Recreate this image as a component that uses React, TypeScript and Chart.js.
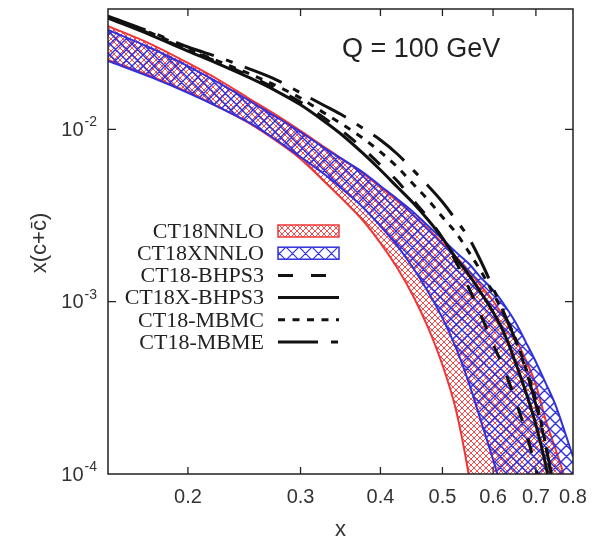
import React, { useEffect, useRef } from "react";
import { Chart, registerables } from "chart.js";

Chart.register(...registerables);

// ---------- data ----------
const xGrid = [0.15, 0.175, 0.2, 0.225, 0.25, 0.275, 0.3, 0.325, 0.35, 0.375, 0.4, 0.425, 0.45, 0.475, 0.5, 0.525, 0.55, 0.575, 0.6, 0.625, 0.65, 0.675, 0.7, 0.725, 0.75, 0.775, 0.8];

const nnloUpper = [0.0398, 0.0313, 0.0243, 0.0191, 0.015, 0.0121, 0.0098, 0.00801, 0.00665, 0.00558, 0.00463, 0.00384, 0.00319, 0.00264, 0.00219, 0.00182, 0.00151, 0.00123, 0.00101, 0.000804, 0.000615, 0.000459, 0.000329, 0.000206, 0.000142, 0.0000974, 0.0000618];
const nnloLower = [0.0253, 0.0204, 0.0165, 0.0133, 0.0108, 0.00857, 0.00674, 0.00509, 0.00389, 0.00298, 0.00219, 0.00157, 0.00108, 0.000704, 0.000429, 0.000235, 0.0000974, 0.0000317, 0.0000095, 0.0000025, 0.0000007, 0.0000002, 0.00000006, 0.00000002, 0.00000001, 0.000000005, 0.000000002];
const xnnloUpper = [0.0378, 0.0297, 0.0233, 0.0184, 0.0146, 0.0118, 0.00966, 0.00791, 0.00665, 0.00566, 0.0047, 0.00395, 0.00332, 0.00275, 0.00231, 0.00194, 0.00166, 0.00137, 0.00117, 0.000957, 0.000762, 0.000583, 0.000447, 0.000337, 0.000255, 0.00018, 0.000126];
const xnnloLower = [0.025, 0.0201, 0.0163, 0.0133, 0.0109, 0.00868, 0.00692, 0.00558, 0.00445, 0.00355, 0.00275, 0.00211, 0.00157, 0.00114, 0.000804, 0.000539, 0.000337, 0.0002, 0.000121, 0.0000706, 0.0000387, 0.0000186, 0.0000083, 0.0000033, 0.0000013, 0.0000005, 0.0000002];
const bhps3 = [0.0449, 0.0358, 0.0289, 0.0243, 0.0204, 0.0172, 0.0144, 0.0118, 0.00966, 0.0078, 0.00622, 0.00502, 0.00389, 0.00306, 0.00234, 0.0017, 0.0012, 0.000826, 0.000568, 0.000402, 0.000269, 0.000175, 0.000106, 0.0000541, 0.0000243, 0.0000109, 0.0000049];
const xbhps3 = [0.0443, 0.0353, 0.0285, 0.0237, 0.0199, 0.0167, 0.0139, 0.0113, 0.00916, 0.0073, 0.00581, 0.00463, 0.00374, 0.00298, 0.00234, 0.00179, 0.00143, 0.00112, 0.000871, 0.00065, 0.000447, 0.000299, 0.000193, 0.000113, 0.0000578, 0.0000277, 0.0000124];
const mbmc = [0.0449, 0.0363, 0.0293, 0.0246, 0.021, 0.0179, 0.0152, 0.0126, 0.0106, 0.00892, 0.0074, 0.00605, 0.00482, 0.00389, 0.0031, 0.00251, 0.00194, 0.00149, 0.00112, 0.000837, 0.000615, 0.000412, 0.000269, 0.000147, 0.0000706, 0.0000317, 0.0000142];
const mbme = [0.0455, 0.0368, 0.0301, 0.026, 0.0224, 0.0194, 0.0163, 0.0139, 0.012, 0.0102, 0.00868, 0.0072, 0.00581, 0.0047, 0.00379, 0.00298, 0.00234, 0.0017, 0.0012, 0.000848, 0.0006, 0.000402, 0.000252, 0.000147, 0.0000755, 0.0000339, 0.0000152];

const seriesNames = ["CT18NNLO", "CT18XNNLO", "CT18-BHPS3", "CT18X-BHPS3", "CT18-MBMC", "CT18-MBME"];
const xTickValues = [0.2, 0.3, 0.4, 0.5, 0.6, 0.7, 0.8];
const xTickLabels = ["0.2", "0.3", "0.4", "0.5", "0.6", "0.7", "0.8"];
const yTickValues = [1e-4, 1e-3, 1e-2];
const yTickExponents = ["-4", "-3", "-2"];
const annotationText = "Q = 100 GeV";
const xTitle = "x";
const yTitle = "x(c+c\u0304)";

// ---------- styles ----------
const RED = "#f03535";
const BLUE = "#3030dd";
const BLACK = "#111";
const DASH_BHPS3 = [15, 18];
const DASH_MBMC = [7, 7.5];
const DASH_MBME = [40, 13, 7, 13];

function makeHatch(ctx: CanvasRenderingContext2D, size: number, color: string, lw: number) {
  const c = document.createElement("canvas");
  c.width = size;
  c.height = size;
  const g = c.getContext("2d")!;
  g.strokeStyle = color;
  g.lineWidth = lw;
  g.beginPath();
  for (const o of [-size, 0, size]) {
    g.moveTo(o, 0);
    g.lineTo(o + size, size);
    g.moveTo(o, size);
    g.lineTo(o + size, 0);
  }
  g.stroke();
  return ctx.createPattern(c, "repeat")!;
}

export default function App() {
  const ref = useRef<HTMLCanvasElement | null>(null);

  useEffect(() => {
    const canvas = ref.current!;
    const ctx0 = canvas.getContext("2d")!;
    const redPat = makeHatch(ctx0, 6, RED, 0.9);
    const bluePat = makeHatch(ctx0, 11, BLUE, 1.4);
    const redPatLegend = makeHatch(ctx0, 6, RED, 0.9);
    const bluePatLegend = makeHatch(ctx0, 13, BLUE, 1.2);

    const mk = (label: string, ys: number[], color: string, width: number, dash: number[], extra: any = {}) => ({
      label,
      data: xGrid.map((x, i) => ({ x, y: ys[i] })),
      borderColor: color,
      borderWidth: width,
      borderDash: dash,
      pointRadius: 0,
      cubicInterpolationMode: "monotone",
      fill: false,
      clip: 0,
      ...extra,
    });

    const datasets: any[] = [
      mk(seriesNames[2], bhps3, BLACK, 3, DASH_BHPS3),
      mk(seriesNames[3], xbhps3, BLACK, 3, []),
      mk(seriesNames[4], mbmc, BLACK, 3, DASH_MBMC),
      mk(seriesNames[5], mbme, BLACK, 3, DASH_MBME),
      mk(seriesNames[1] + " upper", xnnloUpper, BLUE, 2, [], { fill: 5, backgroundColor: bluePat }),
      mk(seriesNames[1] + " lower", xnnloLower, BLUE, 2, []),
      mk(seriesNames[0] + " upper", nnloUpper, RED, 2, [], { fill: 7, backgroundColor: redPat }),
      mk(seriesNames[0] + " lower", nnloLower, RED, 2, []),
    ];

    const decor = {
      id: "decor",
      afterDraw(chart: any) {
        const { ctx, chartArea: a, scales } = chart;
        const xs = scales.x;
        const ys = scales.y;
        ctx.save();
        // frame
        ctx.strokeStyle = "#222";
        ctx.lineWidth = 1.5;
        ctx.setLineDash([]);
        ctx.strokeRect(a.left, a.top, a.right - a.left, a.bottom - a.top);
        // ticks (inward, all four sides)
        ctx.lineWidth = 1.3;
        ctx.beginPath();
        for (const v of xTickValues) {
          const p = xs.getPixelForValue(v);
          if (p <= a.left + 1 || p >= a.right - 1) continue;
          ctx.moveTo(p, a.bottom);
          ctx.lineTo(p, a.bottom - 7);
          ctx.moveTo(p, a.top);
          ctx.lineTo(p, a.top + 7);
        }
        for (const v of yTickValues) {
          const p = ys.getPixelForValue(v);
          if (p <= a.top + 1 || p >= a.bottom - 1) continue;
          ctx.moveTo(a.left, p);
          ctx.lineTo(a.left + 8, p);
          ctx.moveTo(a.right, p);
          ctx.lineTo(a.right - 8, p);
        }
        ctx.stroke();

        // x tick labels
        ctx.fillStyle = "#333";
        ctx.font = '20px "Liberation Sans", Arial, sans-serif';
        ctx.textAlign = "center";
        ctx.textBaseline = "middle";
        xTickValues.forEach((v, i) => {
          ctx.fillText(xTickLabels[i], xs.getPixelForValue(v), a.bottom + 23);
        });

        // y tick labels: 10^n
        yTickValues.forEach((v, i) => {
          const p = ys.getPixelForValue(v);
          ctx.font = '20px "Liberation Sans", Arial, sans-serif';
          const wb = ctx.measureText("10").width;
          ctx.font = '14px "Liberation Sans", Arial, sans-serif';
          const wsup = ctx.measureText(yTickExponents[i]).width;
          const right = a.left - 11;
          const x0 = right - wsup - wb - 1;
          ctx.textAlign = "left";
          ctx.font = '20px "Liberation Sans", Arial, sans-serif';
          ctx.fillText("10", x0, p + 1);
          ctx.font = '14px "Liberation Sans", Arial, sans-serif';
          ctx.fillText(yTickExponents[i], x0 + wb + 1, p - 7);
        });

        // axis titles
        ctx.font = '22px "Liberation Sans", Arial, sans-serif';
        ctx.textAlign = "center";
        ctx.textBaseline = "middle";
        ctx.fillText(xTitle, (a.left + a.right) / 2, 530);
        ctx.save();
        ctx.translate(40, 243);
        ctx.rotate(-Math.PI / 2);
        ctx.fillText(yTitle, 0, 0);
        ctx.restore();

        // annotation
        ctx.fillStyle = "#222";
        ctx.font = '27px "Liberation Sans", Arial, sans-serif';
        ctx.textAlign = "left";
        ctx.fillText(annotationText, 342, 50);

        // legend
        const textRight = 264;
        const sx0 = 278;
        const sx1 = 339;
        const rowY = (i: number) => 231 + i * 22.2;
        ctx.font = '22px "Liberation Serif", "Times New Roman", serif';
        ctx.textAlign = "right";
        ctx.fillStyle = "#222";
        seriesNames.forEach((n, i) => ctx.fillText(n, textRight, rowY(i) + 1));

        // band samples
        const boxes = [
          { pat: redPatLegend, col: RED },
          { pat: bluePatLegend, col: BLUE },
        ];
        boxes.forEach((b, i) => {
          const y = rowY(i);
          ctx.fillStyle = "#fff";
          ctx.fillRect(sx0, y - 6, sx1 - sx0, 12);
          ctx.fillStyle = b.pat;
          ctx.fillRect(sx0, y - 6, sx1 - sx0, 12);
          ctx.strokeStyle = b.col;
          ctx.lineWidth = 1.5;
          ctx.setLineDash([]);
          ctx.strokeRect(sx0, y - 6, sx1 - sx0, 12);
        });
        // line samples
        const dashes = [DASH_BHPS3, [], DASH_MBMC, DASH_MBME];
        dashes.forEach((d, j) => {
          const y = rowY(j + 2);
          ctx.strokeStyle = BLACK;
          ctx.lineWidth = 3;
          ctx.setLineDash(d);
          ctx.beginPath();
          ctx.moveTo(sx0, y);
          ctx.lineTo(sx1, y);
          ctx.stroke();
        });
        ctx.restore();
      },
    };

    const chart = new Chart(canvas, {
      type: "line",
      data: { datasets },
      options: {
        animation: false,
        responsive: false,
        events: [],
        layout: { padding: { left: 108, right: 33, top: 9, bottom: 67 } },
        plugins: { legend: { display: false }, tooltip: { enabled: false } },
        scales: {
          x: { type: "logarithmic", min: 0.15, max: 0.8, display: false },
          y: { type: "logarithmic", min: 1e-4, max: 0.05, display: false },
        },
      } as any,
      plugins: [decor],
    });
    return () => chart.destroy();
  }, []);

  return (
    <div style={{ position: "absolute", left: 0, top: 0, width: 606, height: 541, background: "#fff" }}>
      <canvas ref={ref} width={606} height={541} />
    </div>
  );
}
